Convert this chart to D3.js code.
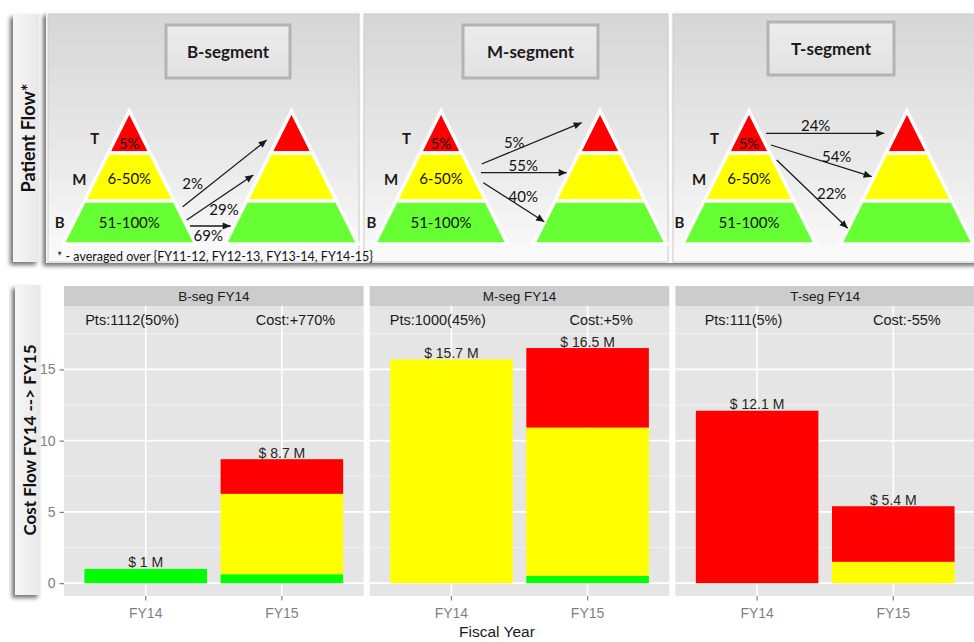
<!DOCTYPE html>
<html>
<head>
<meta charset="utf-8">
<script src="https://cdn.jsdelivr.net/npm/d3@7"></script>
<style>
  html, body { margin: 0; padding: 0; background: #fff; }
  svg { display: block; }
</style>
</head>
<body>
<svg id="chart" width="974" height="642"></svg>
<script>
// ---------------- data ----------------
// Patient flow between tiers, one panel per starting segment
const segments = ["B-segment", "M-segment", "T-segment"];
const tiers = ["T", "M", "B"];
const tierRanges = ["5%", "6-50%", "51-100%"];
// share of each segment's patients ending in tier T, M, B the next year
const flowPct = [[2, 29, 69], [5, 55, 40], [24, 54, 22]];
const flowNote = "* - averaged over {FY11-12, FY12-13, FY13-14, FY14-15}";

// Cost flow (in $M) of each FY14 segment, split by the tier patients sit in
const facets = ["B-seg FY14", "M-seg FY14", "T-seg FY14"];
const years = ["FY14", "FY15"];
const bCost = [[1.0, 0.63], [0, 0.52], [0, 0]];
const mCost = [[0, 5.64], [15.7, 10.4], [0, 1.5]];
const tCost = [[0, 2.43], [0, 5.58], [12.1, 3.9]];
const ptsLabels = ["Pts:1112(50%)", "Pts:1000(45%)", "Pts:111(5%)"];
const costLabels = ["Cost:+770%", "Cost:+5%", "Cost:-55%"];
const yTicks = [0, 5, 10, 15];
const yMinor = [2.5, 7.5, 12.5, 17.5];

// ---------------- styles ----------------
const tierColors = { T: "#ff0000", M: "#ffff00", B: "#66ff33" };
const costColors = { B: "#00ff00", M: "#ffff00", T: "#ff0000" };
const topFont = "Lato, 'Open Sans', sans-serif";
const plotFont = "'Liberation Sans', Arial, sans-serif";

const svg = d3.select("#chart");
const defs = svg.append("defs");

const shadow = defs.append("filter").attr("id", "shadow")
  .attr("filterUnits", "userSpaceOnUse")
  .attr("x", 0).attr("y", 0).attr("width", 974).attr("height", 642);
shadow.append("feDropShadow").attr("dx", -3).attr("dy", 3)
  .attr("stdDeviation", 2.2).attr("flood-color", "#000").attr("flood-opacity", 0.55);

const panelGrad = defs.append("linearGradient").attr("id", "panelGrad")
  .attr("x1", 0).attr("y1", 0).attr("x2", 0).attr("y2", 1);
panelGrad.append("stop").attr("offset", "0%").attr("stop-color", "#d6d6d6");
panelGrad.append("stop").attr("offset", "60%").attr("stop-color", "#eaeaea");
panelGrad.append("stop").attr("offset", "100%").attr("stop-color", "#fbfbfb");

const boxGrad = defs.append("linearGradient").attr("id", "boxGrad")
  .attr("x1", 0).attr("y1", 0).attr("x2", 0).attr("y2", 1);
boxGrad.append("stop").attr("offset", "0%").attr("stop-color", "#ececec");
boxGrad.append("stop").attr("offset", "100%").attr("stop-color", "#e2e2e2");

const sideGrad = defs.append("linearGradient").attr("id", "sideGrad")
  .attr("x1", 0).attr("y1", 0).attr("x2", 1).attr("y2", 0);
sideGrad.append("stop").attr("offset", "0%").attr("stop-color", "#f6f6f6");
sideGrad.append("stop").attr("offset", "100%").attr("stop-color", "#e8e8e8");

defs.append("marker").attr("id", "arrow")
  .attr("viewBox", "0 0 10 10").attr("refX", 10).attr("refY", 5)
  .attr("markerUnits", "userSpaceOnUse")
  .attr("markerWidth", 11).attr("markerHeight", 8).attr("orient", "auto")
  .append("path").attr("d", "M0,0.5 L10,5 L0,9.5 Z").attr("fill", "#1a1a1a");

// ---------------- side label boxes ----------------
function sideBox(x, y, w, h, label, fs) {
  svg.append("rect").attr("x", x).attr("y", y).attr("width", w).attr("height", h)
    .attr("fill", "url(#sideGrad)").attr("filter", "url(#shadow)");
  svg.append("text")
    .attr("transform", `translate(${x + w / 2 + 2},${y + h / 2}) rotate(-90)`)
    .attr("text-anchor", "middle").attr("dominant-baseline", "central")
    .attr("font-family", topFont).attr("font-weight", 700)
    .attr("font-size", fs).attr("fill", "#111").text(label);
}

// ---------------- top: patient flow ----------------
const topPanels = [
  { x0: 48, x1: 359, cxL: 129.3, cxR: 291.5, title: { cx: 228, y0: 25, y1: 78, w: 124 } },
  { x0: 364, x1: 668, cxL: 441, cxR: 600, title: { cx: 530.5, y0: 25, y1: 78, w: 135 } },
  { x0: 673, x1: 978, cxL: 749, cxR: 907, title: { cx: 831, y0: 22, y1: 75, w: 126 } }
];
// arrow layout: start offset from left pyramid, end offset from right pyramid, label spot
const arrowLayout = [
  [[53.4, 206.7, -24.8, 140, 63.4, 183.3], [57.4, 220, -38.2, 175, 94.7, 209.3], [60.7, 226, -60.8, 226, 79, 235]],
  [[40.7, 164, -18.3, 122.7, 73.3, 141.7], [40, 172.7, -33.3, 172.7, 82.3, 165], [42.3, 182.7, -55.7, 221.7, 82.3, 196]],
  [[17, 133.3, -22.7, 133.3, 66.7, 125.3], [22, 145, -35.3, 176.7, 87.7, 155.7], [27.7, 160, -59.3, 228.3, 82.7, 193.3]]
];

// main frame of the top section
svg.append("rect").attr("x", 46).attr("y", 12).attr("width", 940).attr("height", 251)
  .attr("fill", "#fbfbfb").attr("filter", "url(#shadow)");

const apexY = 111, baseY = 244, slope = 0.5;
const tierBounds = [apexY, 153, 201, baseY];
const tierTextY = [143, 177.5, 222];
const tierLetterY = [138, 179, 222];
const tierLetterDx = [-34.5, -50, -69.5];

topPanels.forEach((p, i) => {
  const g = svg.append("g");
  g.append("rect").attr("x", p.x0).attr("y", 14).attr("width", p.x1 - p.x0).attr("height", 248)
    .attr("fill", "url(#panelGrad)").attr("stroke", "#c9c9c9").attr("stroke-width", 1);

  // segment title box
  g.append("rect").attr("x", p.title.cx - p.title.w / 2).attr("y", p.title.y0)
    .attr("width", p.title.w).attr("height", p.title.y1 - p.title.y0)
    .attr("fill", "url(#boxGrad)").attr("stroke", "#b3b3b3").attr("stroke-width", 3);
  g.append("text").attr("x", p.title.cx).attr("y", (p.title.y0 + p.title.y1) / 2)
    .attr("text-anchor", "middle").attr("dominant-baseline", "central")
    .attr("font-family", topFont).attr("font-weight", 700).attr("font-size", 17)
    .attr("fill", "#1a1a1a").text(segments[i]);

  // two pyramids: current year (with tier ranges) and next year
  [p.cxL, p.cxR].forEach((cx, side) => {
    tiers.forEach((t, k) => {
      const yA = tierBounds[k], yB = tierBounds[k + 1];
      const hwA = (yA - apexY) * slope, hwB = (yB - apexY) * slope;
      g.append("path")
        .attr("d", `M${cx - hwA},${yA} L${cx + hwA},${yA} L${cx + hwB},${yB} L${cx - hwB},${yB} Z`)
        .attr("fill", tierColors[t]).attr("stroke", "#fff").attr("stroke-width", 3.5)
        .attr("stroke-linejoin", "miter");
      if (side === 0) {
        g.append("text").attr("x", cx).attr("y", tierTextY[k])
          .attr("text-anchor", "middle").attr("dominant-baseline", "central")
          .attr("font-family", topFont).attr("font-size", 15).attr("fill", "#111")
          .text(tierRanges[k]);
        g.append("text").attr("x", cx + tierLetterDx[k]).attr("y", tierLetterY[k])
          .attr("text-anchor", "middle").attr("dominant-baseline", "central")
          .attr("font-family", topFont).attr("font-weight", 700).attr("font-size", 15)
          .attr("fill", "#1a1a1a").text(t);
      }
    });
  });

  // flow arrows into each next-year tier
  flowPct[i].forEach((v, k) => {
    const a = arrowLayout[i][k];
    g.append("line")
      .attr("x1", p.cxL + a[0]).attr("y1", a[1])
      .attr("x2", p.cxR + a[2]).attr("y2", a[3])
      .attr("stroke", "#1a1a1a").attr("stroke-width", 1.3)
      .attr("marker-end", "url(#arrow)");
    g.append("text").attr("x", p.cxL + a[4]).attr("y", a[5])
      .attr("text-anchor", "middle").attr("dominant-baseline", "central")
      .attr("font-family", topFont).attr("font-size", 15).attr("fill", "#111")
      .text(v + "%");
  });
});

svg.append("text").attr("x", 57).attr("y", 256).attr("dominant-baseline", "central")
  .attr("font-family", topFont).attr("font-size", 12.5).attr("fill", "#111").text(flowNote);

sideBox(13, 14, 26, 248, "Patient Flow*", 18);

// ---------------- bottom: cost flow ----------------
const fx = d3.scaleBand(facets, [64, 975]).paddingInner(0.02).paddingOuter(0);
const y = d3.scaleLinear().domain([-0.9, 19.45]).range([596, 306]);
const stripTop = 286, stripBot = 306;

facets.forEach((f, i) => {
  const x0 = fx(f), w = fx.bandwidth();
  const x = d3.scaleBand(years, [x0, x0 + w]).paddingInner(0.1).paddingOuter(0.15);
  const step = x.step();
  const g = svg.append("g");

  // strip
  g.append("rect").attr("x", x0).attr("y", stripTop).attr("width", w).attr("height", stripBot - stripTop)
    .attr("fill", "#cccccc");
  g.append("text").attr("x", x0 + w / 2).attr("y", (stripTop + stripBot) / 2)
    .attr("text-anchor", "middle").attr("dominant-baseline", "central")
    .attr("font-family", plotFont).attr("font-size", 13.5).attr("fill", "#1a1a1a").text(f);

  // panel + grid
  g.append("rect").attr("x", x0).attr("y", stripBot).attr("width", w).attr("height", y.range()[0] - stripBot)
    .attr("fill", "#e5e5e5");
  yMinor.forEach(v => g.append("line").attr("x1", x0).attr("x2", x0 + w)
    .attr("y1", y(v)).attr("y2", y(v)).attr("stroke", "#f4f4f4").attr("stroke-width", 0.9));
  yTicks.forEach(v => g.append("line").attr("x1", x0).attr("x2", x0 + w)
    .attr("y1", y(v)).attr("y2", y(v)).attr("stroke", "#ffffff").attr("stroke-width", 1.6));
  years.forEach(yr => g.append("line")
    .attr("x1", x(yr) + x.bandwidth() / 2).attr("x2", x(yr) + x.bandwidth() / 2)
    .attr("y1", stripBot).attr("y2", y.range()[0]).attr("stroke", "#ffffff").attr("stroke-width", 1.6));

  // stacked bars: B tier at the bottom, then M, then T
  years.forEach((yr, j) => {
    const parts = [["B", bCost[i][j]], ["M", mCost[i][j]], ["T", tCost[i][j]]];
    let base = 0;
    parts.forEach(([t, v]) => {
      if (v > 0) {
        g.append("rect").attr("x", x(yr)).attr("width", x.bandwidth())
          .attr("y", y(base + v)).attr("height", y(base) - y(base + v))
          .attr("fill", costColors[t]);
      }
      base += v;
    });
    const total = +base.toFixed(1);
    g.append("text").attr("x", x(yr) + x.bandwidth() / 2).attr("y", y(total) - 1.5)
      .attr("text-anchor", "middle")
      .attr("font-family", plotFont).attr("font-size", 14).attr("fill", "#262626")
      .text(`$ ${total} M`);
  });

  // patient count and cost change notes
  const noteY = y(18.5);
  g.append("text").attr("x", x(years[0]) + x.bandwidth() / 2 - 0.1 * step).attr("y", noteY)
    .attr("text-anchor", "middle").attr("dominant-baseline", "central")
    .attr("font-family", plotFont).attr("font-size", 14.5).attr("fill", "#1a1a1a").text(ptsLabels[i]);
  g.append("text").attr("x", x(years[1]) + x.bandwidth() / 2 + 0.1 * step).attr("y", noteY)
    .attr("text-anchor", "middle").attr("dominant-baseline", "central")
    .attr("font-family", plotFont).attr("font-size", 14.5).attr("fill", "#1a1a1a").text(costLabels[i]);

  // x axis
  const xa = svg.append("g").attr("transform", `translate(0,${y.range()[0]})`)
    .call(d3.axisBottom(x).tickSize(4.5).tickPadding(8));
  xa.select(".domain").remove();
  xa.selectAll("line").attr("stroke", "#7f7f7f").attr("stroke-width", 1.2);
  xa.selectAll("text").attr("font-family", plotFont).attr("font-size", 14).attr("fill", "#7f7f7f");

  if (i === 0) {
    const ya = svg.append("g").attr("transform", `translate(${x0},0)`)
      .call(d3.axisLeft(y).tickValues(yTicks).tickSize(4.5).tickPadding(4));
    ya.select(".domain").remove();
    ya.selectAll("line").attr("stroke", "#7f7f7f").attr("stroke-width", 1.2);
    ya.selectAll("text").attr("font-family", plotFont).attr("font-size", 14).attr("fill", "#7f7f7f");
  }
});

svg.append("text").attr("x", 497).attr("y", 631).attr("text-anchor", "middle")
  .attr("dominant-baseline", "central")
  .attr("font-family", plotFont).attr("font-size", 15.5).attr("fill", "#1a1a1a").text("Fiscal Year");

sideBox(15, 285, 25.5, 310, "Cost Flow FY14 --> FY15", 17);
</script>
</body>
</html>
